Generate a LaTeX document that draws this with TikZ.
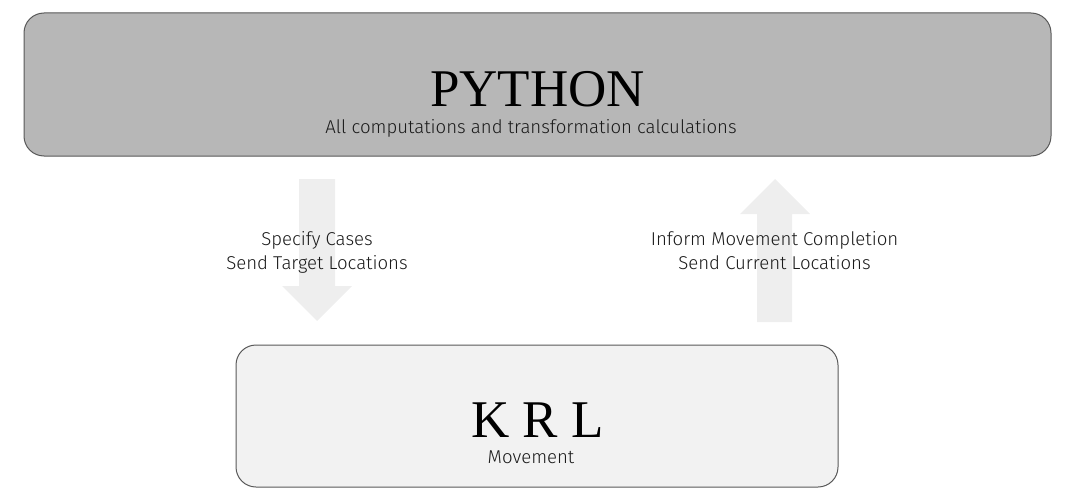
\documentclass[tikz,border=0pt]{standalone}
\usepackage{fontspec}
\setmainfont{Liberation Serif}
\newfontfamily\lightsans{Fira Sans Light}
\definecolor{topfill}{HTML}{B7B7B7}
\definecolor{botfill}{HTML}{F2F2F2}
\definecolor{edgecol}{HTML}{595959}
\definecolor{arrowcol}{HTML}{EEEEEE}
\definecolor{txtcol}{HTML}{1A1A1A}
\begin{document}
\begin{tikzpicture}[x=1pt,y=-1pt,
  panel/.style={draw=edgecol,line width=1pt,rounded corners=20pt},
  bigtitle/.style={anchor=base,inner sep=0pt,font=\fontsize{53}{56}\selectfont,text=black},
  subtitle/.style={anchor=base,inner sep=0pt,font=\lightsans\fontsize{18.6}{22}\selectfont,text=txtcol},
  fatarrow/.style={fill=arrowcol,draw=none}]
\useasboundingbox (0,0) rectangle (1081,503);
\draw[panel,fill=topfill] (24,13) rectangle (1051,156);
\draw[panel,fill=botfill] (236,345) rectangle (838,487);
% down arrow
\fill[fatarrow] (299,179) -- (335,179) -- (335,286) -- (352,286) -- (317,321) -- (282,286) -- (299,286) -- cycle;
% up arrow
\fill[fatarrow] (757,322) -- (792,322) -- (792,214) -- (810,214) -- (775,179) -- (740,214) -- (757,214) -- cycle;
\node[bigtitle] (py) at (537.5,106) {PYTHON};
\node[subtitle] (pysub) at (531,133) {All computations and transformation calculations};
\node[bigtitle] (krl) at (537.5,437) {K R L};
\node[subtitle] (krlsub) at (531,463) {Movement};
\node[subtitle] (l1) at (317,245) {Specify Cases};
\node[subtitle] (l2) at (317,269) {Send Target Locations};
\node[subtitle] (r1) at (774.5,245) {Inform Movement Completion};
\node[subtitle] (r2) at (774.5,269) {Send Current Locations};
\end{tikzpicture}
\end{document}
